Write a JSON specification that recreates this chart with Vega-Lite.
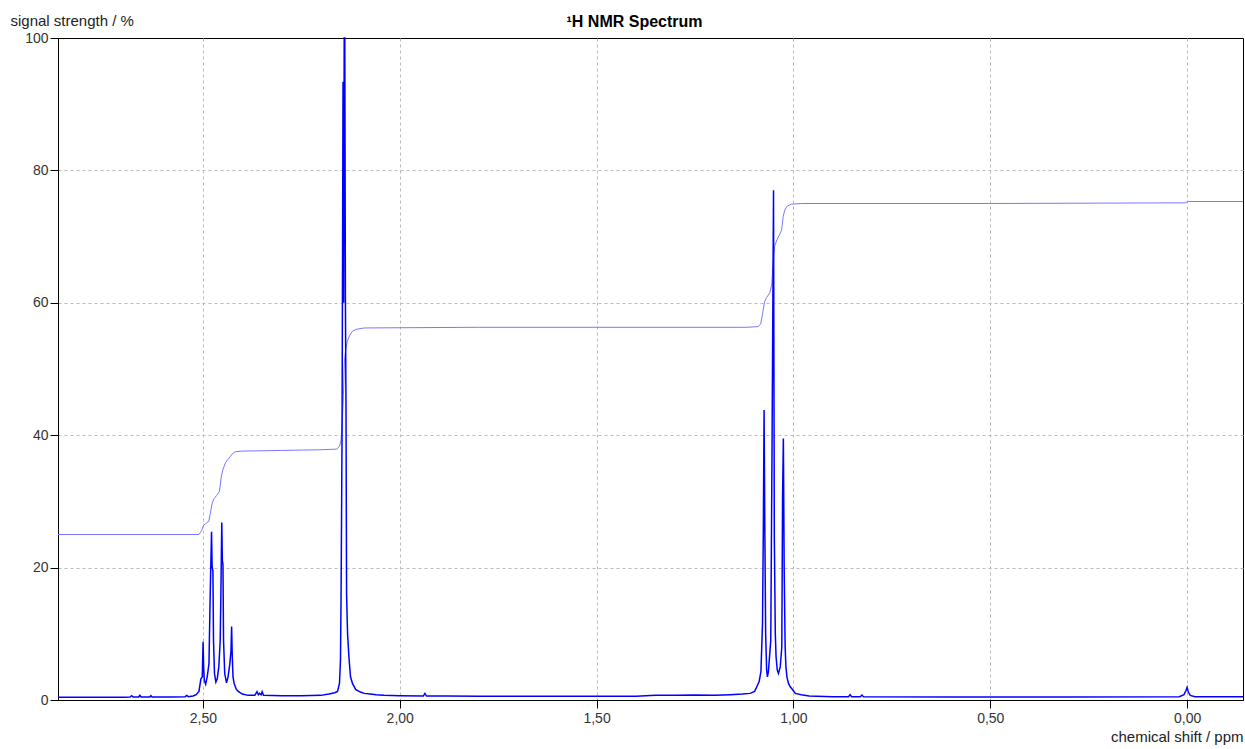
{
  "$schema": "https://vega.github.io/schema/vega-lite/v6.json",
  "width": 1185,
  "height": 662,
  "autosize": "none",
  "padding": {"left": 58, "top": 38, "right": 2, "bottom": 49},
  "background": "white",
  "config": {
    "view": {"stroke": "black", "strokeWidth": 1},
    "font": "Liberation Sans",
    "axis": {
      "domainColor": "black",
      "tickColor": "black",
      "tickSize": 8,
      "labelFont": "Liberation Sans",
      "labelFontSize": 14,
      "labelColor": "#333333",
      "titleFont": "Liberation Sans",
      "titleFontSize": 15,
      "titleFontWeight": "normal",
      "titleColor": "#222222",
      "gridColor": "#bbbbbb",
      "gridDash": [3, 3],
      "gridWidth": 1
    }
  },
  "title": {
    "text": "¹H NMR Spectrum",
    "font": "Liberation Sans",
    "fontSize": 16,
    "fontWeight": "bold",
    "color": "black",
    "anchor": "middle",
    "frame": "group",
    "dx": -16,
    "baseline": "alphabetic",
    "offset": -30
  },
  "datasets": {
    "spectrum": [
      {"ppm": 2.868, "v": 0.4}, {"ppm": 2.75, "v": 0.4}, {"ppm": 2.7, "v": 0.4},
      {"ppm": 2.685, "v": 0.45}, {"ppm": 2.681, "v": 0.65}, {"ppm": 2.677, "v": 0.45},
      {"ppm": 2.663, "v": 0.45}, {"ppm": 2.66, "v": 0.7}, {"ppm": 2.657, "v": 0.45},
      {"ppm": 2.635, "v": 0.45}, {"ppm": 2.632, "v": 0.65}, {"ppm": 2.629, "v": 0.45},
      {"ppm": 2.58, "v": 0.45}, {"ppm": 2.545, "v": 0.5}, {"ppm": 2.541, "v": 0.7},
      {"ppm": 2.537, "v": 0.5}, {"ppm": 2.525, "v": 0.6}, {"ppm": 2.517, "v": 0.8},
      {"ppm": 2.51, "v": 1.3}, {"ppm": 2.505, "v": 3.2}, {"ppm": 2.5015, "v": 3.5},
      {"ppm": 2.4995, "v": 8.8}, {"ppm": 2.498, "v": 5}, {"ppm": 2.4965, "v": 3},
      {"ppm": 2.493, "v": 2.4}, {"ppm": 2.489, "v": 3.5}, {"ppm": 2.4845, "v": 5.5},
      {"ppm": 2.4815, "v": 15.6}, {"ppm": 2.478, "v": 25.4}, {"ppm": 2.4765, "v": 20.1},
      {"ppm": 2.4745, "v": 19.5}, {"ppm": 2.473, "v": 9}, {"ppm": 2.4705, "v": 4},
      {"ppm": 2.467, "v": 2.7}, {"ppm": 2.4635, "v": 3.2}, {"ppm": 2.4595, "v": 5},
      {"ppm": 2.456, "v": 9}, {"ppm": 2.4545, "v": 15}, {"ppm": 2.452, "v": 26.8},
      {"ppm": 2.4505, "v": 21.1}, {"ppm": 2.449, "v": 20.5}, {"ppm": 2.4475, "v": 9},
      {"ppm": 2.4445, "v": 4}, {"ppm": 2.44, "v": 2.6}, {"ppm": 2.436, "v": 3.5},
      {"ppm": 2.4315, "v": 5.5}, {"ppm": 2.4285, "v": 7.5}, {"ppm": 2.427, "v": 11.1},
      {"ppm": 2.4255, "v": 7}, {"ppm": 2.4235, "v": 3.5}, {"ppm": 2.4205, "v": 2.5},
      {"ppm": 2.415, "v": 1.6}, {"ppm": 2.41, "v": 1.3}, {"ppm": 2.4, "v": 0.9},
      {"ppm": 2.385, "v": 0.7}, {"ppm": 2.368, "v": 0.7}, {"ppm": 2.3625, "v": 1.25},
      {"ppm": 2.359, "v": 0.8}, {"ppm": 2.356, "v": 1.0}, {"ppm": 2.352, "v": 0.8},
      {"ppm": 2.3495, "v": 1.25}, {"ppm": 2.346, "v": 0.7}, {"ppm": 2.3, "v": 0.65},
      {"ppm": 2.25, "v": 0.65}, {"ppm": 2.2, "v": 0.7}, {"ppm": 2.18, "v": 0.9},
      {"ppm": 2.165, "v": 1.1}, {"ppm": 2.158, "v": 1.3}, {"ppm": 2.153, "v": 2.5},
      {"ppm": 2.1505, "v": 6}, {"ppm": 2.149, "v": 15.6}, {"ppm": 2.1465, "v": 40},
      {"ppm": 2.144, "v": 93.4}, {"ppm": 2.1425, "v": 60}, {"ppm": 2.141, "v": 100},
      {"ppm": 2.1395, "v": 100}, {"ppm": 2.138, "v": 61}, {"ppm": 2.1365, "v": 45},
      {"ppm": 2.135, "v": 16}, {"ppm": 2.1325, "v": 10}, {"ppm": 2.129, "v": 6.5},
      {"ppm": 2.125, "v": 3.5}, {"ppm": 2.12, "v": 2.5}, {"ppm": 2.112, "v": 1.6},
      {"ppm": 2.1, "v": 1.2}, {"ppm": 2.09, "v": 1.0}, {"ppm": 2.075, "v": 0.9},
      {"ppm": 2.06, "v": 0.8}, {"ppm": 2.04, "v": 0.7}, {"ppm": 2.0, "v": 0.65},
      {"ppm": 1.94, "v": 0.6}, {"ppm": 1.936, "v": 1.0}, {"ppm": 1.932, "v": 0.6},
      {"ppm": 1.88, "v": 0.6}, {"ppm": 1.8, "v": 0.55}, {"ppm": 1.6, "v": 0.55},
      {"ppm": 1.4, "v": 0.55}, {"ppm": 1.35, "v": 0.7}, {"ppm": 1.3, "v": 0.7},
      {"ppm": 1.25, "v": 0.75}, {"ppm": 1.2, "v": 0.7}, {"ppm": 1.16, "v": 0.8},
      {"ppm": 1.13, "v": 0.9}, {"ppm": 1.11, "v": 1.0}, {"ppm": 1.0985, "v": 1.3},
      {"ppm": 1.093, "v": 2.0}, {"ppm": 1.087, "v": 2.8}, {"ppm": 1.0825, "v": 4.3},
      {"ppm": 1.0785, "v": 11.6}, {"ppm": 1.0765, "v": 25}, {"ppm": 1.0745, "v": 43.8},
      {"ppm": 1.0725, "v": 25.2}, {"ppm": 1.0705, "v": 10}, {"ppm": 1.068, "v": 4.5},
      {"ppm": 1.066, "v": 3.5}, {"ppm": 1.0635, "v": 4.3}, {"ppm": 1.0575, "v": 9},
      {"ppm": 1.0545, "v": 36.2}, {"ppm": 1.0505, "v": 77}, {"ppm": 1.0485, "v": 24.7},
      {"ppm": 1.046, "v": 10}, {"ppm": 1.044, "v": 6.5}, {"ppm": 1.041, "v": 4.5},
      {"ppm": 1.038, "v": 4}, {"ppm": 1.0335, "v": 5}, {"ppm": 1.0295, "v": 8},
      {"ppm": 1.0275, "v": 30.7}, {"ppm": 1.0255, "v": 39.5}, {"ppm": 1.0235, "v": 20},
      {"ppm": 1.021, "v": 8}, {"ppm": 1.019, "v": 5}, {"ppm": 1.0165, "v": 3.5},
      {"ppm": 1.0125, "v": 2.5}, {"ppm": 1.008, "v": 2.0}, {"ppm": 1.0, "v": 1.4},
      {"ppm": 0.995, "v": 1.0}, {"ppm": 0.98, "v": 0.8}, {"ppm": 0.96, "v": 0.6},
      {"ppm": 0.9, "v": 0.5}, {"ppm": 0.86, "v": 0.5}, {"ppm": 0.856, "v": 0.8},
      {"ppm": 0.852, "v": 0.5}, {"ppm": 0.83, "v": 0.5}, {"ppm": 0.826, "v": 0.75},
      {"ppm": 0.822, "v": 0.5}, {"ppm": 0.6, "v": 0.45}, {"ppm": 0.3, "v": 0.45},
      {"ppm": 0.02, "v": 0.5}, {"ppm": 0.008, "v": 0.8}, {"ppm": 0.003, "v": 1.4},
      {"ppm": 0.0, "v": 1.9}, {"ppm": -0.003, "v": 1.2}, {"ppm": -0.008, "v": 0.7},
      {"ppm": -0.02, "v": 0.5}, {"ppm": -0.142, "v": 0.5}
    ],
    "integral": [
      {"ppm": 2.868, "v": 25.0}, {"ppm": 2.51, "v": 25.0}, {"ppm": 2.503, "v": 25.6},
      {"ppm": 2.499, "v": 26.3}, {"ppm": 2.494, "v": 26.6}, {"ppm": 2.485, "v": 27.0},
      {"ppm": 2.481, "v": 28.2}, {"ppm": 2.477, "v": 29.6}, {"ppm": 2.472, "v": 30.4},
      {"ppm": 2.465, "v": 30.9}, {"ppm": 2.458, "v": 31.5}, {"ppm": 2.453, "v": 33.8},
      {"ppm": 2.449, "v": 34.8}, {"ppm": 2.443, "v": 35.8}, {"ppm": 2.437, "v": 36.3},
      {"ppm": 2.43, "v": 36.8}, {"ppm": 2.425, "v": 37.2}, {"ppm": 2.418, "v": 37.5},
      {"ppm": 2.4, "v": 37.6}, {"ppm": 2.3, "v": 37.7}, {"ppm": 2.2, "v": 37.8},
      {"ppm": 2.16, "v": 37.9}, {"ppm": 2.153, "v": 38.3}, {"ppm": 2.149, "v": 39.3},
      {"ppm": 2.146, "v": 42}, {"ppm": 2.143, "v": 46}, {"ppm": 2.1405, "v": 51.2},
      {"ppm": 2.137, "v": 53}, {"ppm": 2.133, "v": 54.2}, {"ppm": 2.127, "v": 55.1},
      {"ppm": 2.12, "v": 55.7}, {"ppm": 2.11, "v": 56.0}, {"ppm": 2.09, "v": 56.2},
      {"ppm": 1.8, "v": 56.3}, {"ppm": 1.12, "v": 56.3}, {"ppm": 1.09, "v": 56.4},
      {"ppm": 1.083, "v": 56.8}, {"ppm": 1.078, "v": 58.5}, {"ppm": 1.073, "v": 60.2},
      {"ppm": 1.068, "v": 60.8}, {"ppm": 1.06, "v": 61.5}, {"ppm": 1.055, "v": 62.8},
      {"ppm": 1.051, "v": 66.5}, {"ppm": 1.048, "v": 68.5}, {"ppm": 1.042, "v": 69.5},
      {"ppm": 1.036, "v": 70.2}, {"ppm": 1.03, "v": 71}, {"ppm": 1.026, "v": 73},
      {"ppm": 1.022, "v": 74}, {"ppm": 1.016, "v": 74.6}, {"ppm": 1.005, "v": 74.9},
      {"ppm": 0.98, "v": 75.0}, {"ppm": 0.5, "v": 75.0}, {"ppm": 0.005, "v": 75.1},
      {"ppm": -0.003, "v": 75.3}, {"ppm": -0.142, "v": 75.3}
    ]
  },
  "encoding": {
    "x": {
      "field": "ppm",
      "type": "quantitative",
      "scale": {"domain": [-0.142, 2.868], "reverse": true, "nice": false, "zero": false},
      "axis": {
        "values": [0, 0.5, 1, 1.5, 2, 2.5],
        "labelExpr": "replace(format(datum.value, '.2f'), '.', ',')",
        "labelPadding": 3,
        "title": "chemical shift / ppm",
        "titleAnchor": "end",
        "titleAlign": "right",
        "titleBaseline": "alphabetic",
        "titleX": 1185,
        "titleY": 41
      }
    },
    "y": {
      "field": "v",
      "type": "quantitative",
      "scale": {"domain": [0, 100], "nice": false},
      "axis": {
        "values": [0, 20, 40, 60, 80, 100],
        "gridOpacity": {"condition": {"test": "datum.value == 0 || datum.value == 100", "value": 0}, "value": 1},
        "labelPadding": 2,
        "title": "signal strength / %",
        "titleAngle": 0,
        "titleAlign": "left",
        "titleBaseline": "alphabetic",
        "titleX": -48,
        "titleY": -13
      }
    }
  },
  "layer": [
    {
      "data": {"name": "integral"},
      "mark": {"type": "line", "color": "#7878ff", "strokeWidth": 1, "interpolate": "linear"}
    },
    {
      "data": {"name": "spectrum"},
      "mark": {"type": "line", "color": "#0000ff", "strokeWidth": 1.5, "interpolate": "linear"}
    }
  ]
}
